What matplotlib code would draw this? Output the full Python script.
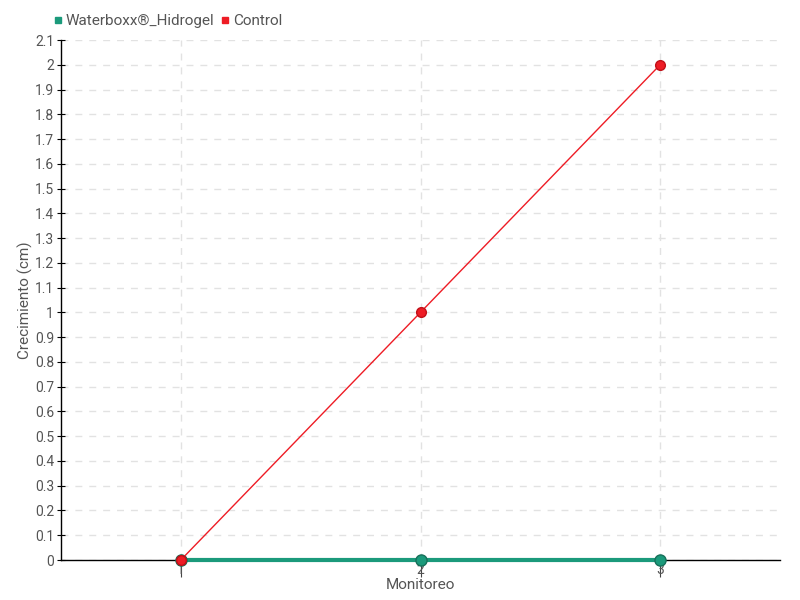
import matplotlib
matplotlib.use("Agg")
import matplotlib.pyplot as plt
from matplotlib.lines import Line2D
import numpy as np

plt.rcParams['font.family'] = ['Roboto', 'DejaVu Sans']

monitoreo = [1, 2, 3]
waterboxx = [0, 0, 0]
control = [0, 1, 2]
series_names = ['Waterboxx®_Hidrogel', 'Control']
yticks = np.round(np.arange(0, 2.11, 0.1), 1)
ytick_labels = [('%g' % v) for v in yticks]

green = '#1b9a7b'
red = '#ee1c25'
txt = '#555555'

fig = plt.figure(figsize=(8, 6), dpi=100)
ax = fig.add_axes([61/800, 40/600, (780-61)/800, (560-40)/600])

ax.plot(monitoreo, waterboxx, color=green, linewidth=3, marker='o', markersize=8,
        markerfacecolor=green, markeredgecolor='#17705a', zorder=3, clip_on=False)
ax.plot(monitoreo, control, color=red, linewidth=1, marker='o', markersize=7,
        markerfacecolor=red, markeredgecolor='#c01018', zorder=4, clip_on=False)

ax.set_xlim(0.5, 3.5)
ax.set_ylim(0, 2.1)
ax.set_xticks(monitoreo)
ax.set_xticklabels([str(m) for m in monitoreo])
ax.set_yticks(yticks)
ax.set_yticklabels(ytick_labels)

ax.grid(True, color='#e2e2e2', linestyle=(0, (5, 5)), linewidth=1)
ax.set_axisbelow(True)
for s in ['top', 'right']:
    ax.spines[s].set_visible(False)
for s in ['left', 'bottom']:
    ax.spines[s].set_color('black')
    ax.spines[s].set_linewidth(1)

ax.tick_params(axis='y', direction='inout', length=6, colors='black', labelcolor=txt, labelsize=10, pad=2)
ax.tick_params(axis='x', direction='out', length=12, colors='#444444', labelcolor=txt, labelsize=10, pad=-10)

ax.set_xlabel('Monitoreo', color=txt, fontsize=11)
ax.xaxis.set_label_coords(0.5, -0.035)
ax.set_ylabel('Crecimiento (cm)', color=txt, fontsize=11, va='center')
ax.yaxis.set_label_coords(-0.05, 0.5)

handles = [Line2D([], [], color=green, marker='s', linestyle='none', markersize=5),
           Line2D([], [], color=red, marker='s', linestyle='none', markersize=5)]
fig.legend(handles, series_names, loc='center left', bbox_to_anchor=(46/800, 1 - 21/600),
           ncol=2, frameon=False, fontsize=11, labelcolor=txt, handlelength=0.6,
           handletextpad=0.2, columnspacing=0.4, borderpad=0)

fig.savefig('out.png', dpi=100)
